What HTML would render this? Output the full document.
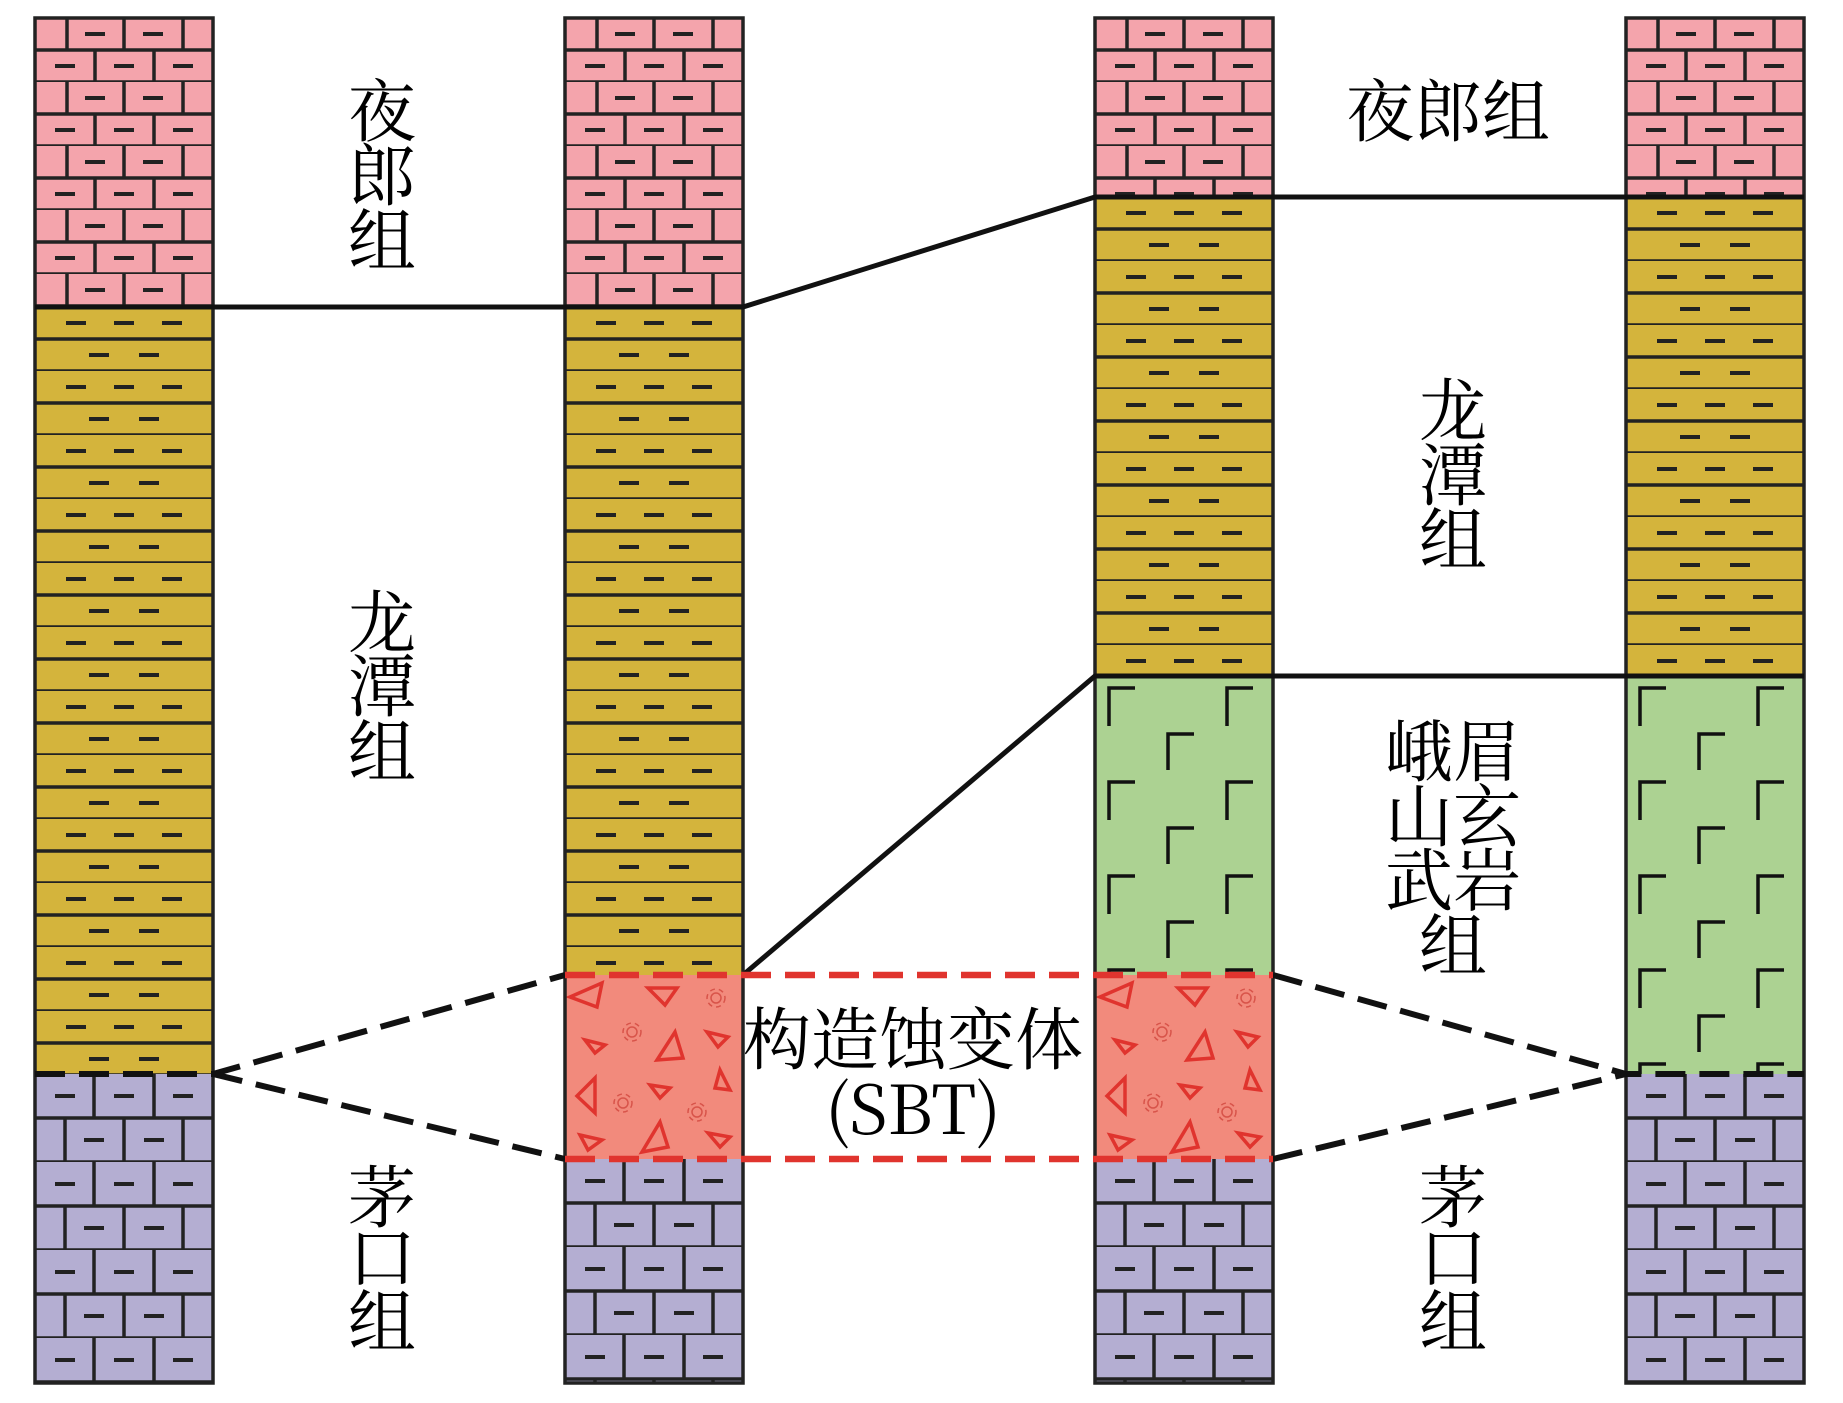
<!DOCTYPE html>
<html><head><meta charset="utf-8"><style>
html,body{margin:0;padding:0;background:#fff;}
svg{display:block;}
.t{font-family:"Noto Serif CJK SC","Liberation Serif",serif;font-size:68px;fill:#000;}
</style></head><body>
<svg width="1843" height="1403" viewBox="0 0 1843 1403" xmlns="http://www.w3.org/2000/svg">
<defs>
<pattern id="pink" patternUnits="userSpaceOnUse" width="178" height="64">
<rect width="178" height="64" fill="#f4a4ac"/>
<g stroke="#222" stroke-width="3.5" fill="none">
<path d="M0 32H178M0 64H178M32 0V32M89 0V32M148 0V32M60 32V64M119 32V64"/>
</g>
<g stroke="#222" stroke-width="4">
<path d="M50 16H70M108 16H128M20 48H40M79 48H99M138 48H158"/>
</g>
</pattern>
<pattern id="yel" patternUnits="userSpaceOnUse" width="178" height="64">
<rect width="178" height="64" fill="#d4b43c"/>
<path d="M0 32H178M0 64H178" stroke="#222" stroke-width="3.5"/>
<path d="M31 16H51M79 16H99M127 16H147M54 48H74M104 48H124" stroke="#222" stroke-width="4"/>
</pattern>
<pattern id="pur" patternUnits="userSpaceOnUse" width="178" height="88">
<rect width="178" height="88" fill="#b4aed2"/>
<path d="M0 44H178M0 88H178M59 0V44M119 0V44M30 44V88M89 44V88M148 44V88" stroke="#222" stroke-width="3.5" fill="none"/>
<path d="M20 22H40M79 22H99M138 22H158M49 66H69M109 66H129" stroke="#222" stroke-width="4"/>
</pattern>
<pattern id="grn" patternUnits="userSpaceOnUse" width="178" height="94">
<rect width="178" height="94" fill="#acd292"/>
<path d="M14 50V12H40M132 50V12H158M73 96V58H99" stroke="#111" stroke-width="3.5" fill="none"/>
</pattern>
<g id="sbt">
<rect width="178" height="184" fill="#f28a7c"/>
<g fill="none" stroke="#e0342e" stroke-width="3.5" stroke-linejoin="miter">
<path d="M5 22L37 8L32 32Z"/><path d="M83 13L112 13L100 30Z"/>
<path d="M20 65L40 70L30 78Z"/><path d="M110 57L118 83L92 85Z"/>
<path d="M142 57L163 62L153 72Z"/><path d="M155 95L165 115L150 113Z"/>
<path d="M30 103L30 138L12 121Z"/><path d="M85 110L105 113L95 123Z"/>
<path d="M15 160L37 165L23 175Z"/><path d="M95 147L103 172L77 177Z"/>
<path d="M143 158L165 162L155 172Z"/>
</g>
<g fill="none" stroke="#d8544a" stroke-width="1.5">
<circle cx="151" cy="23" r="5"/><circle cx="151" cy="23" r="9" stroke-dasharray="5 4"/>
<circle cx="67" cy="57" r="5"/><circle cx="67" cy="57" r="9" stroke-dasharray="5 4"/>
<circle cx="58" cy="128" r="5"/><circle cx="58" cy="128" r="9" stroke-dasharray="5 4"/>
<circle cx="132" cy="137" r="5"/><circle cx="132" cy="137" r="9" stroke-dasharray="5 4"/>
</g>
</g>
</defs>

<g transform="translate(35,18)"><rect width="178" height="289" fill="url(#pink)"/></g>
<g transform="translate(35,307)"><rect width="178" height="767" fill="url(#yel)"/></g>
<g transform="translate(35,1074)"><rect width="178" height="309" fill="url(#pur)"/></g>
<rect x="35" y="18" width="178" height="1365" fill="none" stroke="#222" stroke-width="3.5"/>

<g transform="translate(565,18)"><rect width="178" height="289" fill="url(#pink)"/></g>
<g transform="translate(565,307)"><rect width="178" height="668" fill="url(#yel)"/></g>
<use href="#sbt" x="565" y="975"/>
<g transform="translate(565,1159)"><rect width="178" height="224" fill="url(#pur)"/></g>
<rect x="565" y="18" width="178" height="1365" fill="none" stroke="#222" stroke-width="3.5"/>

<g transform="translate(1095,18)"><rect width="178" height="179" fill="url(#pink)"/></g>
<g transform="translate(1095,197)"><rect width="178" height="479" fill="url(#yel)"/></g>
<g transform="translate(1095,676)"><rect width="178" height="299" fill="url(#grn)"/></g>
<use href="#sbt" x="1095" y="975"/>
<g transform="translate(1095,1159)"><rect width="178" height="224" fill="url(#pur)"/></g>
<rect x="1095" y="18" width="178" height="1365" fill="none" stroke="#222" stroke-width="3.5"/>

<g transform="translate(1626,18)"><rect width="178" height="179" fill="url(#pink)"/></g>
<g transform="translate(1626,197)"><rect width="178" height="479" fill="url(#yel)"/></g>
<g transform="translate(1626,676)"><rect width="178" height="398" fill="url(#grn)"/></g>
<g transform="translate(1626,1074)"><rect width="178" height="309" fill="url(#pur)"/></g>
<rect x="1626" y="18" width="178" height="1365" fill="none" stroke="#222" stroke-width="3.5"/>

<g stroke="#111" stroke-width="5" fill="none">
<path d="M35 307H565M565 307H743L1095 197H1804"/>
<path d="M743 975L1095 676H1804"/>
</g>
<g stroke="#111" stroke-width="6" fill="none" stroke-dasharray="30 14">
<path d="M35 1074H213L565 975"/>
<path d="M213 1074L565 1159"/>
<path d="M1273 975L1626 1074H1804"/>
<path d="M1273 1159L1626 1074"/>
</g>
<g stroke="#e0342e" stroke-width="6.5" fill="none" stroke-dasharray="30 14">
<path d="M565 975H1273M565 1159H1273"/>
</g>

<g class="t" text-anchor="middle">
<text x="382" y="136">夜</text><text x="382" y="200">郎</text><text x="382" y="265">组</text>
<text x="1448" y="136">夜郎组</text>
<text x="382" y="647">龙</text><text x="382" y="711">潭</text><text x="382" y="776">组</text>
<text x="1453" y="435">龙</text><text x="1453" y="500">潭</text><text x="1453" y="564">组</text>
<text x="1453" y="776">峨眉</text><text x="1453" y="841">山玄</text><text x="1453" y="905">武岩</text><text x="1453" y="970">组</text>
<text x="382" y="1222">茅</text><text x="382" y="1282">口</text><text x="382" y="1346">组</text>
<text x="1453" y="1222">茅</text><text x="1453" y="1282">口</text><text x="1453" y="1346">组</text>
<text x="913" y="1064">构造蚀变体</text>
<text x="913" y="1134">(SBT)</text>
</g>
</svg>
</body></html>
